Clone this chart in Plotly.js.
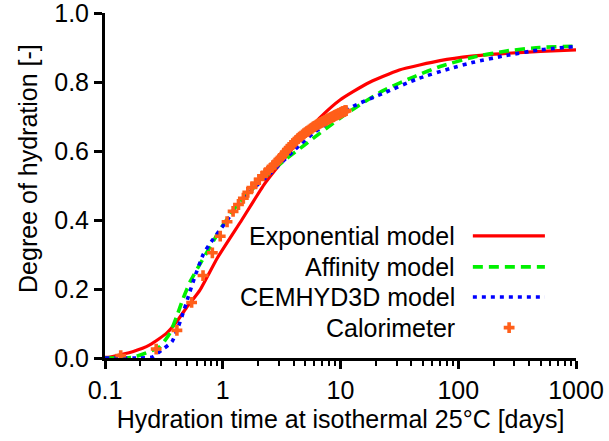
<!DOCTYPE html>
<html>
<head>
<meta charset="utf-8">
<script src="https://cdn.plot.ly/plotly-3.0.1.min.js"></script>
<style>html,body{margin:0;padding:0;background:#fff;}#chart{width:609px;height:441px;}</style>
</head>
<body>
<div id="chart"></div>
<script>
// ---- data ----
var expT = [0.1, 0.11, 0.174, 0.24, 0.334, 0.406, 0.49, 0.64, 0.9, 1.45, 2.28, 3.37, 4.5, 6.7, 9.9, 16.7, 31.6, 70, 130, 256, 500, 1000];
var expA = [0.002, 0.003, 0.019, 0.038, 0.072, 0.105, 0.145, 0.197, 0.29, 0.40, 0.506, 0.58, 0.633, 0.697, 0.748, 0.795, 0.835, 0.862, 0.875, 0.883, 0.889, 0.893];

var affT = [0.1, 0.15, 0.174, 0.24, 0.293, 0.356, 0.406, 0.46, 0.53, 0.64, 0.73, 0.98, 1.36, 2.14, 3.37, 4.98, 6.7, 12, 23, 44, 70, 134, 256, 490, 1000];
var affA = [0.0, 0.0, 0.002, 0.019, 0.033, 0.072, 0.12, 0.172, 0.222, 0.272, 0.305, 0.38, 0.448, 0.516, 0.574, 0.618, 0.652, 0.715, 0.775, 0.818, 0.845, 0.872, 0.89, 0.9, 0.904];

var cemT = [0.1, 0.2, 0.249, 0.303, 0.37, 0.42, 0.46, 0.51, 0.58, 0.68, 0.78, 1.04, 1.54, 2.44, 4.67, 5.9, 12.7, 23, 44, 85, 134, 256, 490, 1000];
var cemA = [0.0, 0.0, 0.002, 0.023, 0.047, 0.091, 0.13, 0.178, 0.236, 0.299, 0.332, 0.39, 0.468, 0.53, 0.622, 0.652, 0.729, 0.767, 0.808, 0.839, 0.857, 0.877, 0.893, 0.903];

var calT = [0.136, 0.272, 0.408, 0.544, 0.680, 0.816, 0.952, 1.088, 1.224, 1.360, 1.496, 1.632, 1.768, 1.904, 2.040, 2.176, 2.312, 2.448, 2.584, 2.720, 2.856, 2.992, 3.128, 3.264, 3.400, 3.536, 3.672, 3.808, 3.944, 4.080, 4.216, 4.352, 4.488, 4.624, 4.760, 4.896, 5.032, 5.168, 5.304, 5.440, 5.576, 5.712, 5.848, 5.984, 6.120, 6.256, 6.392, 6.528, 6.664, 6.800, 6.936, 7.072, 7.208, 7.344, 7.480, 7.616, 7.752, 7.888, 8.024, 8.160, 8.296, 8.432, 8.568, 8.704, 8.840, 8.976, 9.112, 9.248, 9.384, 9.520, 9.656, 9.792, 9.928, 10.064, 10.200, 10.336, 10.472, 10.608, 10.744, 10.880, 11.016, 11.152];
var calA = [0.007, 0.026, 0.080, 0.161, 0.239, 0.305, 0.353, 0.395, 0.425, 0.445, 0.463, 0.480, 0.494, 0.507, 0.518, 0.528, 0.537, 0.545, 0.552, 0.560, 0.568, 0.575, 0.582, 0.589, 0.597, 0.604, 0.610, 0.616, 0.621, 0.626, 0.631, 0.636, 0.640, 0.643, 0.647, 0.650, 0.653, 0.656, 0.658, 0.661, 0.664, 0.666, 0.669, 0.671, 0.673, 0.675, 0.677, 0.679, 0.680, 0.682, 0.683, 0.685, 0.686, 0.688, 0.689, 0.690, 0.692, 0.693, 0.694, 0.696, 0.697, 0.698, 0.699, 0.700, 0.702, 0.703, 0.704, 0.705, 0.706, 0.707, 0.708, 0.709, 0.710, 0.711, 0.712, 0.713, 0.714, 0.715, 0.715, 0.716, 0.717, 0.717];

var seriesNames = ['Exponential model', 'Affinity model', 'CEMHYD3D model', 'Calorimeter'];
var xTickVals = [0.1, 1, 10, 100, 1000];
var xTickText = ['0.1', '1', '10', '100', '1000'];
var yTickVals = [0, 0.2, 0.4, 0.6, 0.8, 1.0];
var yTickText = ['0.0', '0.2', '0.4', '0.6', '0.8', '1.0'];
var xTitle = 'Hydration time at isothermal 25°C [days]';
var yTitle = 'Degree of hydration [-]';

// ---- styles ----
var RED = '#ff0000', GREEN = '#00f000', BLUE = '#0000ff', ORANGE = '#ff5f1a';
var FONT = 'Liberation Sans, Arial, Helvetica, sans-serif';
var FS = 25;

var minorVals = [];
[0.1, 1, 10, 100].forEach(function (d) { for (var k = 2; k <= 9; k++) minorVals.push(+(d * k).toPrecision(3)); });

var traces = [
  {x: expT, y: expA, mode: 'lines', line: {color: RED, width: 3.2, shape: 'spline', smoothing: 0.5}, name: seriesNames[0]},
  {x: affT, y: affA, mode: 'lines', line: {color: GREEN, width: 3.6, dash: '10px,6px', shape: 'spline', smoothing: 0.5}, name: seriesNames[1]},
  {x: cemT, y: cemA, mode: 'lines', line: {color: BLUE, width: 3.6, dash: '4px,5px', shape: 'spline', smoothing: 0.5}, name: seriesNames[2]},
  {x: calT, y: calA, mode: 'markers', marker: {symbol: 'cross', size: 9, color: ORANGE, line: {width: 0}}, name: seriesNames[3]}
];

// custom legend (text on the left, sample on the right) on a hidden overlay axis
var legY = [0.354, 0.264, 0.177, 0.088];
var legX0 = 0.781, legX1 = 0.934, legXM = 0.858, legTextX = 0.748;
traces.push({x: [legX0, legX1], y: [legY[0], legY[0]], xaxis: 'x2', yaxis: 'y2', mode: 'lines', line: {color: RED, width: 3.2}, showlegend: false, hoverinfo: 'skip'});
traces.push({x: [legX0, legX1], y: [legY[1], legY[1]], xaxis: 'x2', yaxis: 'y2', mode: 'lines', line: {color: GREEN, width: 3.6, dash: '10px,6px'}, showlegend: false, hoverinfo: 'skip'});
traces.push({x: [legX0, legX1], y: [legY[2], legY[2]], xaxis: 'x2', yaxis: 'y2', mode: 'lines', line: {color: BLUE, width: 3.6, dash: '4px,5px'}, showlegend: false, hoverinfo: 'skip'});
traces.push({x: [legXM], y: [legY[3]], xaxis: 'x2', yaxis: 'y2', mode: 'markers', marker: {symbol: 'cross', size: 9, color: ORANGE}, showlegend: false, hoverinfo: 'skip'});

var annotations = seriesNames.map(function (n, i) {
  return {xref: 'paper', yref: 'paper', x: legTextX, y: legY[i], text: n, showarrow: false,
          xanchor: 'right', yanchor: 'middle', font: {family: FONT, size: FS, color: '#000'}};
});
annotations.push({xref: 'paper', yref: 'paper', x: 0, xshift: -77, y: 0.548, text: yTitle, textangle: -90,
  showarrow: false, xanchor: 'center', yanchor: 'middle', font: {family: FONT, size: FS, color: '#000'}});

var layout = {
  width: 609, height: 441,
  margin: {l: 105, r: 33, t: 13, b: 83, pad: 0},
  paper_bgcolor: '#fff', plot_bgcolor: '#fff',
  showlegend: false,
  font: {family: FONT, size: FS, color: '#000'},
  xaxis: {
    type: 'log', range: [-1, 3], tickvals: xTickVals, ticktext: xTickText,
    showgrid: false, zeroline: false, showline: true, linecolor: '#000', linewidth: 3,
    ticks: 'outside', ticklen: 8, tickwidth: 3, tickcolor: '#000',
    ticklabeloverflow: 'allow',
    minor: {tickvals: minorVals, ticks: 'outside', ticklen: 5, tickwidth: 2, tickcolor: '#000', showgrid: false},
    tickfont: {family: FONT, size: FS},
    title: {text: xTitle, font: {family: FONT, size: FS}, standoff: 8}
  },
  yaxis: {
    range: [0, 1], tickvals: yTickVals, ticktext: yTickText,
    showgrid: false, zeroline: false, showline: true, linecolor: '#000', linewidth: 3,
    ticks: 'outside', ticklen: 8, tickwidth: 3, tickcolor: '#000',
    ticklabeloverflow: 'allow',
    tickfont: {family: FONT, size: FS}
  },
  xaxis2: {overlaying: 'x', range: [0, 1], visible: false, fixedrange: true},
  yaxis2: {overlaying: 'y', range: [0, 1], visible: false, fixedrange: true},
  annotations: annotations
};

Plotly.newPlot('chart', traces, layout, {displayModeBar: false, staticPlot: true});
</script>
</body>
</html>
